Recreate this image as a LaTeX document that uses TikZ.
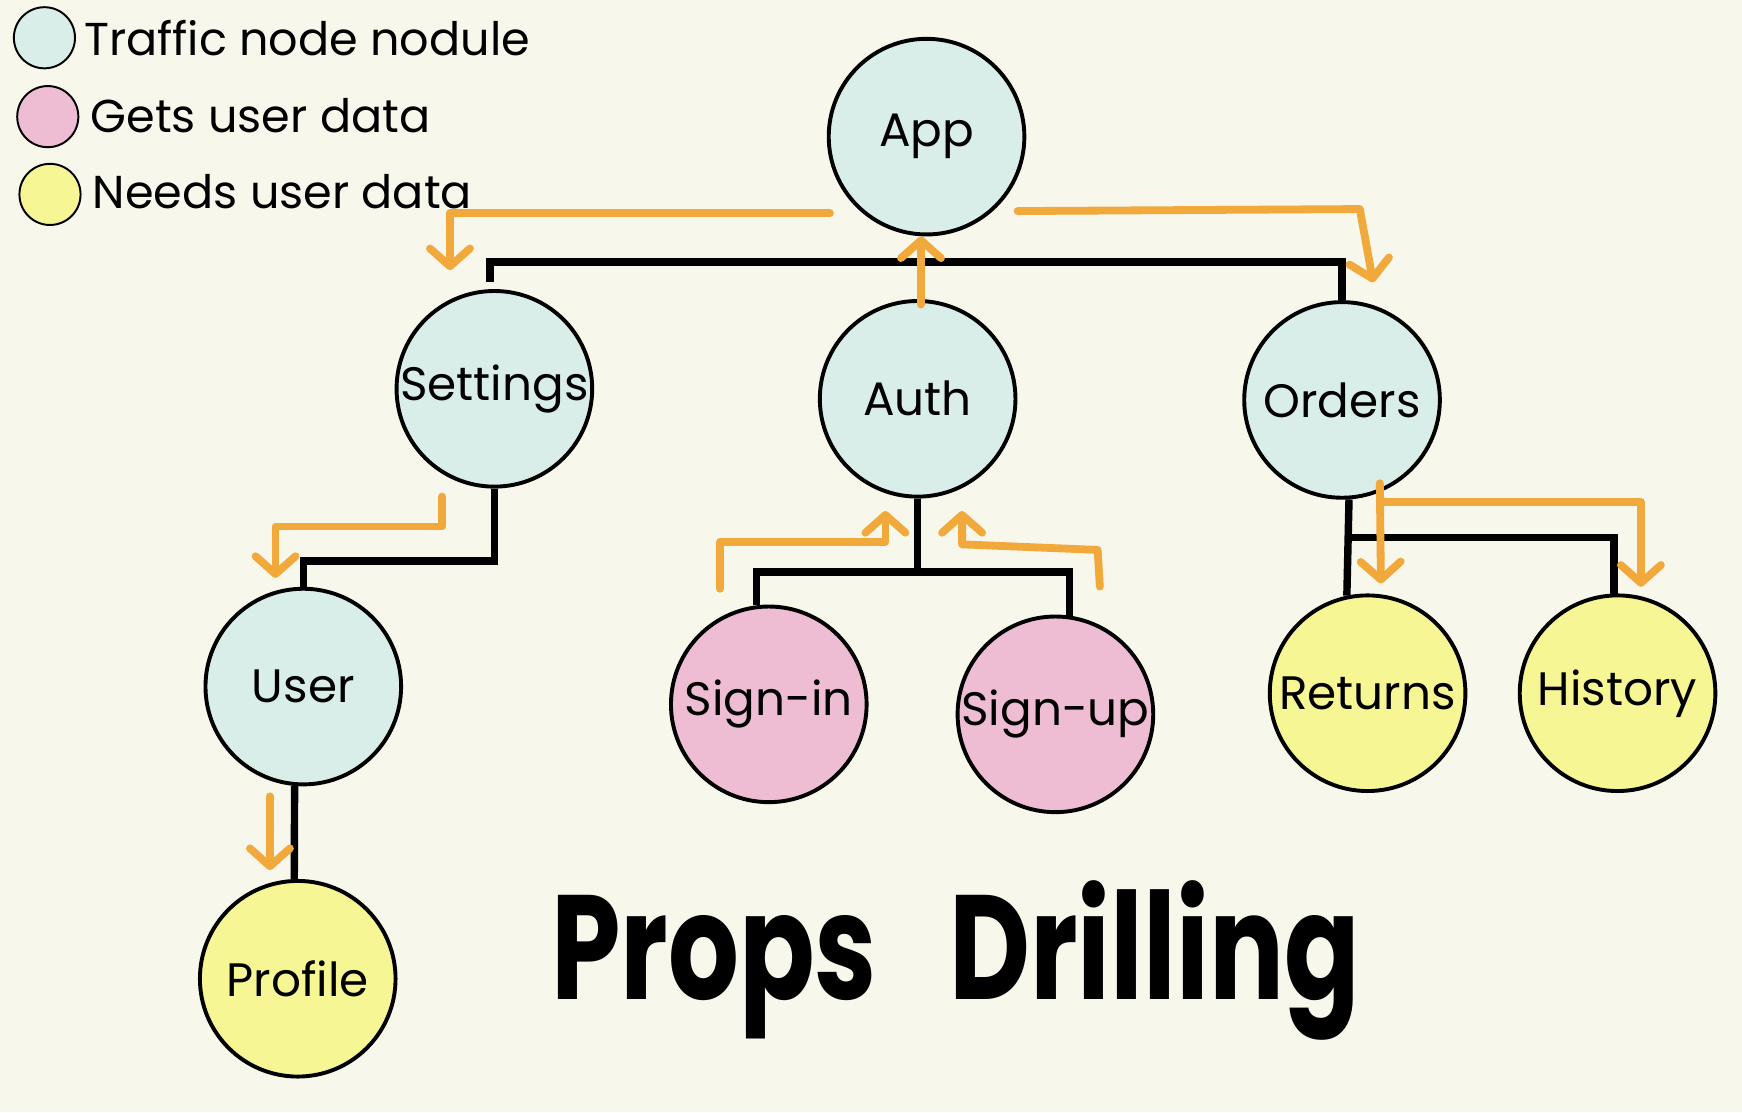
\documentclass[tikz,border=0pt]{standalone}
\usepackage{fontspec}
\setmainfont{Poppins}
\usepackage{tikz}
\usetikzlibrary{arrows.meta}
\usetikzlibrary{calc}
\usetikzlibrary{positioning}

\definecolor{Paper}{RGB}{247,247,235}
\definecolor{Traffic}{RGB}{217,238,233}
\definecolor{Gets}{RGB}{238,188,211}
\definecolor{Needs}{RGB}{246,246,148}
\definecolor{Drill}{RGB}{242,169,59}

\begin{document}
\begin{tikzpicture}
  [
    x = 0.01cm, y = -0.01cm,
    node/.style = {circle, draw, line width = 1pt, minimum size = 1.76cm,
                  inner sep = 0pt, font = \fontsize{12}{14}\selectfont},
    traffic/.style = {node, fill=Traffic},
    gets/.style = {node, fill=Gets},
    needs/.style = {node, fill=Needs},
    key/.style = {circle, draw, line width = 0.5pt, minimum size = 0.55cm, inner sep = 0pt},
    keytext/.style = {anchor = base west, inner sep = 0pt, font = \fontsize{11.8}{14}\selectfont},
    link/.style = {line width = 1.9pt},
    prop/.style = {Drill, line width = 2pt, line cap = round, line join = round,
                  -{Straight Barb[length=1.6mm, width=3.6mm, round]}},
  ]

  \fill[Paper] (0,0) rectangle (1568,1001);

  % legend
  \node[key, fill=Traffic] (key_traffic) at (40,34) {};
  \node[keytext] (text_traffic) at (75,50) {Traffic node nodule};
  \node[key, fill=Gets] (key_gets) at (43,105) {};
  \node[keytext] (text_gets) at (81,119) {Gets user data};
  \node[key, fill=Needs] (key_needs) at (45,175) {};
  \node[keytext] (text_needs) at (83,188) {Needs user data};

  % components
  \node[traffic] (app) at (834,123) {App};
  \node[traffic] (settings) at (445,350) {Settings};
  \node[traffic] (auth) at (826,359) {Auth};
  \node[traffic] (orders) at (1208,360) {Orders};
  \node[traffic] (user) at (273,618) {User};
  \node[gets] (signin) at (692,634) {Sign-in};
  \node[gets] (signup) at (950,643) {Sign-up};
  \node[needs] (returns) at (1231,624) {Returns};
  \node[needs] (history) at (1456,624) {History};
  \node[needs] (profile) at (268,881) {Profile};

  % tree
  \coordinate (app_tree) at (834,236);
  \draw[link] ($(settings.north)+(-4,-6)$) |- (app_tree) -| (orders.north);
  \draw[link] (settings.south) -- ++(0,65) -| (user.north);
  \draw[link] (user.265) -- (profile.92);
  \draw[link] (auth.south) -- ++(0,66) coordinate (auth_tree);
  \draw[link] (signin.97) |- (auth_tree) -| (signup.82);
  \draw[link] (orders.274) -- (returns.102);
  \draw[link] (orders.274) ++(0,34) -| (history.92);

  % passing the user data down
  \draw[prop] ($(app.center)+(-87,69)$) -| ($(settings.north)+(-40,-17)$);
  \draw[prop] ($(app.center)+(82,67)$) -- ($(orders.north)+(16,-82)$) -- ($(orders.north)+(28,-16)$);
  \draw[prop] ($(auth.north)+(3,5)$) -- ($(app.south)+(-5,0)$);
  \draw[prop] ($(settings.center)+(-47,97)$) -- ++(0,27) -| ($(user.north)+(-25,-8)$);
  \draw[prop] ($(user.south)+(-30,9)$) -- ($(profile.north)+(-25,-8)$);
  \draw[prop] ($(signin.center)+(-44,-104)$) |- ($(auth.center)+(-29,129)$) -- ($(auth.center)+(-29,101)$);
  \draw[prop] ($(signup.center)+(40,-115)$) -- ++(-2,-33) -- ($(auth.center)+(40,131)$) -- ($(auth.center)+(40,101)$);
  \draw[prop] ($(orders.center)+(34,75)$) -- ($(returns.north)+(12,-9)$);
  \draw[prop] ($(orders.center)+(34,92)$) -| ($(history.north)+(21,-6)$);

  \node[anchor = base, font = \bfseries\fontsize{38}{40}\selectfont] (title) at (860,900)
    {\scalebox{0.75}[1]{Props\hspace{0.65em}Drilling}};

\end{tikzpicture}
\end{document}
